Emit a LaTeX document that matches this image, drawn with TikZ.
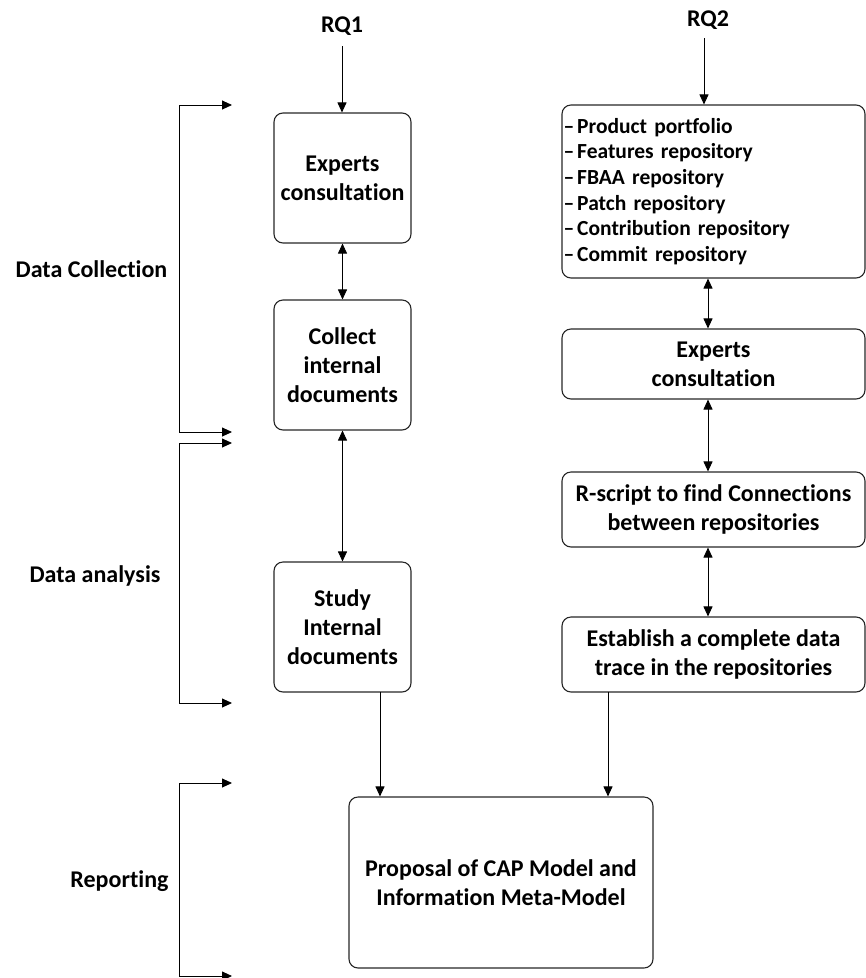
\documentclass[tikz,border=0pt]{standalone}
\usepackage{fontspec}
\setmainfont{Carlito}[Ligatures=NoCommon]
\usetikzlibrary{arrows.meta}
\begin{document}
\begin{tikzpicture}[x=1pt,y=-1pt,
  every node/.style={font=\bfseries\fontsize{24}{29}\selectfont},
  box/.style={draw=black!85,line width=1.1pt,rounded corners=9pt,align=center,inner sep=0pt},
  lbox/.style={box,minimum width=137pt,minimum height=130pt},
  rbox/.style={box,minimum width=303pt,minimum height=73pt},
  arr/.style={-{Triangle[length=10pt,width=9pt]},line width=0.9pt},
  darr/.style={{Triangle[length=10pt,width=9pt]}-{Triangle[length=10pt,width=9pt]},line width=0.9pt},
  lab/.style={font=\bfseries\fontsize{24}{29}\selectfont}]
\useasboundingbox (0,0) rectangle (866,978);
% headers
\node[lab] (rq1) at (342,26) {RQ1};
\node[lab] (rq2) at (708,20) {RQ2};
% left column
\node[lbox] (exp1) at (342.5,178) {Experts\\consultation};
\node[lbox] (col) at (342.5,365) {Collect\\internal\\documents};
\node[lbox] (study) at (342.5,627) {Study\\Internal\\documents};
% right column
\node[box,minimum width=303pt,minimum height=173pt,text width=300pt,align=left,inner xsep=1.5pt,
  font=\bfseries\fontsize{21.5}{25.6}\selectfont] (list) at (713.5,191.5)
  {--\kern3pt Product portfolio\\--\kern3pt Features repository\\--\kern3pt FBAA repository\\--\kern3pt Patch repository\\--\kern3pt Contribution repository\\--\kern3pt Commit repository};
\node[rbox,minimum height=70pt] (exp2) at (713.5,364) {Experts\\consultation};
\node[rbox,minimum height=75pt] (rs) at (713.5,509.5) {R-script to find Connections\\between repositories};
\node[rbox,minimum height=75pt] (est) at (713.5,654.5) {Establish a complete data\\trace in the repositories};
\node[box,minimum width=304pt,minimum height=171pt] (prop) at (501,882.5) {Proposal of CAP Model and\\Information Meta-Model};
% arrows
\coordinate (rq1a) at (342,46);
\coordinate (rq2a) at (704,38);
\draw[arr] (rq1a) -- (rq1a |- exp1.north);
\draw[arr] (rq2a) -- (rq2a |- list.north);
\draw[darr] (exp1.south) -- (col.north);
\draw[darr] (col.south) -- (study.north);
\draw[darr] (list.south) ++(-5.5,0) coordinate (ls2) -- (ls2 |- exp2.north);
\draw[darr] (exp2.south) ++(-5.5,0) coordinate (e2s) -- (e2s |- rs.north);
\draw[darr] (rs.south) ++(-5.5,0) coordinate (rss) -- (rss |- est.north);
\coordinate (sts) at (380,692);
\coordinate (ests) at (608,692);
\draw[arr] (sts) -- (sts |- prop.north);
\draw[arr] (ests) -- (ests |- prop.north);
% brackets
\coordinate (b1t) at (232,105);
\coordinate (b1b) at (232,432);
\coordinate (b2t) at (232,443);
\coordinate (b2b) at (232,703);
\coordinate (b3t) at (232,783);
\coordinate (b3b) at (232,976);
\draw[darr] (b1t) -- (179,105) -- (179,432) -- (b1b);
\draw[darr] (b2t) -- (179,443) -- (179,703) -- (b2b);
\draw[darr] (b3t) -- (179,783) -- (179,976) -- (b3b);
\node[lab] (dc) at (91.5,269) {Data Collection};
\node[lab] (da) at (95,576) {Data analysis};
\node[lab] (rep) at (119.5,881) {Reporting};
\end{tikzpicture}
\end{document}
